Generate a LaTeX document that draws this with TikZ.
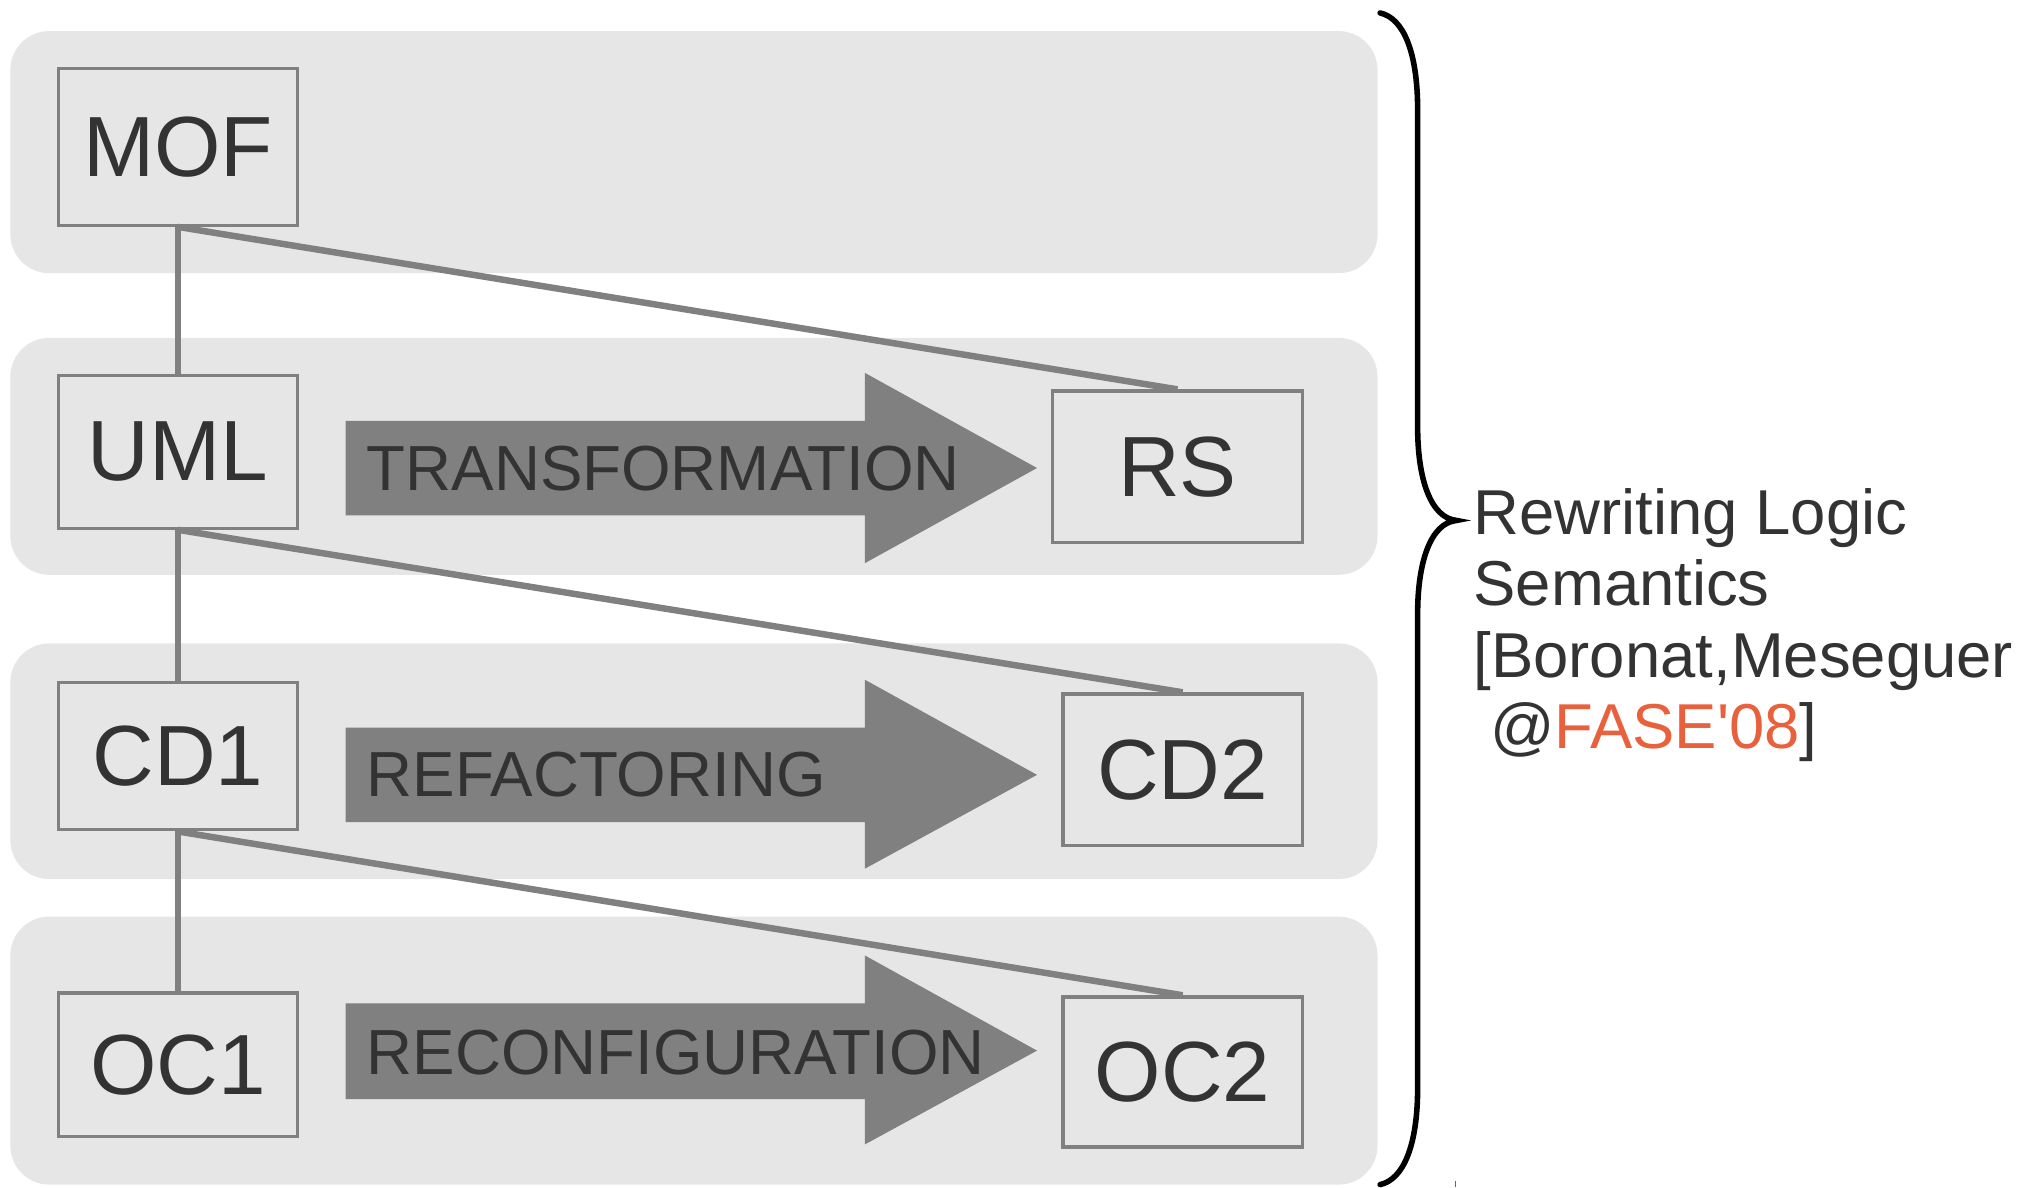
\documentclass[tikz,border=0pt]{standalone}
\usepackage{fontspec}
\setmainfont{Liberation Sans}[Ligatures=TeXOff]
\definecolor{bandgray}{HTML}{E6E6E6}
\definecolor{boxgray}{HTML}{808080}
\definecolor{textdark}{HTML}{333333}
\definecolor{fase}{HTML}{E9603C}
\begin{document}
\begin{tikzpicture}[x=1pt,y=-1pt,
  band/.style={fill=bandgray, rounded corners=30pt},
  box/.style={draw=boxgray, line width=2.5pt, inner sep=0pt, text=textdark, font=\fontsize{66}{70}\selectfont},
  conn/.style={draw=boxgray, line width=5pt},
  fat/.style={fill=boxgray},
  lbl/.style={anchor=west, inner sep=0pt, text=textdark, font=\fontsize{49.2}{52}\selectfont},
  note/.style={anchor=base west, inner sep=0pt, text=textdark, font=\fontsize{49}{55}\selectfont},
  brace/.style={draw=black, line width=4.3pt, line cap=round}]
\useasboundingbox (0,0) rectangle (1568,917);
% bands
\fill[band] (8,24) rectangle (1064,211);
\fill[band] (8,261) rectangle (1064,444);
\fill[band] (8,497) rectangle (1064,679);
\fill[band] (8,708) rectangle (1064,915);
% fat arrows
\fill[fat] (267,325) -- (668,325) -- (668,288) -- (801,361.5) -- (668,435) -- (668,398) -- (267,398) -- cycle;
\fill[fat] (267,562) -- (668,562) -- (668,525) -- (801,598.5) -- (668,671) -- (668,635) -- (267,635) -- cycle;
\fill[fat] (267,775) -- (668,775) -- (668,738) -- (801,811.5) -- (668,884) -- (668,849) -- (267,849) -- cycle;
\node[lbl] (ltrans) at (283,362) {TRANSFORMATION};
\node[lbl] (lrefac) at (283,598.5) {REFACTORING};
\node[lbl] (lreconf) at (283,813) {RECONFIGURATION};
% boxes
\node[box, minimum width=185pt, minimum height=121pt] (MOF) at (137.5,113.5) {MOF};
\node[box, minimum width=185pt, minimum height=118pt] (UML) at (137.5,349) {UML};
\node[box, minimum width=185pt, minimum height=114pt] (CD1) at (137.5,584) {CD1};
\node[box, minimum width=185pt, minimum height=111pt] (OC1) at (137.5,822.5) {OC1};
\node[box, minimum width=193pt, minimum height=117pt] (RS) at (909.5,360.5) {RS};
\node[box, minimum width=185pt, minimum height=117pt] (CD2) at (913.5,594.5) {CD2};
\node[box, minimum width=185pt, minimum height=116pt] (OC2) at (913.5,828) {OC2};
% connectors
\draw[conn] (MOF.south) -- (UML.north);
\draw[conn] (MOF.south) -- (RS.north);
\draw[conn] (UML.south) -- (CD1.north);
\draw[conn] (UML.south) -- (CD2.north);
\draw[conn] (CD1.south) -- (OC1.north);
\draw[conn] (CD1.south) -- (OC2.north);
% brace
\coordinate (btop) at (1066,10);
\coordinate (btip) at (1125,402);
\coordinate (bbot) at (1066,915);
\draw[brace] (btop) .. controls (1084,14) and (1095,40) .. (1095,85) -- (1095,330)
  .. controls (1095,370) and (1105,400) .. (btip)
  .. controls (1105,404) and (1095,434) .. (1095,474) -- (1095,840)
  .. controls (1095,885) and (1084,911) .. (bbot);
\draw[line width=0.8pt, black!60] (1124,912) -- (1124,917);
% note
\node[note] (n1) at (1138,413) {Rewriting Logic};
\node[note] (n2) at (1138,468) {Semantics};
\node[note] (n3) at (1138,523) {[Boronat,Meseguer};
\node[note] (n4) at (1151,578) {@\textcolor{fase}{FASE'08}]};
\end{tikzpicture}
\end{document}
